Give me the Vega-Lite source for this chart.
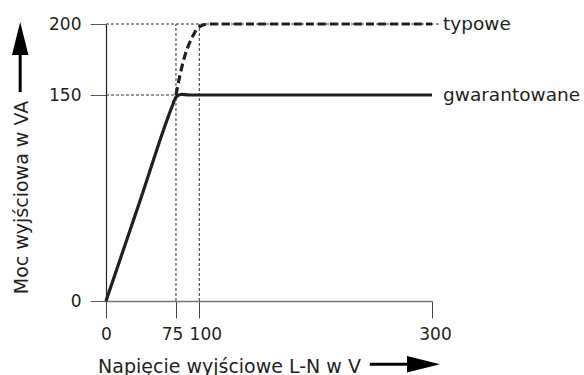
{
  "$schema": "https://vega.github.io/schema/vega-lite/v6.json",
  "autosize": "none",
  "width": 326,
  "height": 277,
  "padding": {"left": 106, "top": 24, "right": 152, "bottom": 74},
  "config": {"font": "DejaVu Sans", "view": {"stroke": null}},
  "datasets": {
    "curves": [
      {"series": "gwarantowane", "x": 0, "y": 0},
      {"series": "gwarantowane", "x": 35, "y": 70},
      {"series": "gwarantowane", "x": 71, "y": 142},
      {"series": "gwarantowane", "x": 74, "y": 147.2},
      {"series": "gwarantowane", "x": 77, "y": 149.6},
      {"series": "gwarantowane", "x": 81, "y": 150.4},
      {"series": "gwarantowane", "x": 90, "y": 150},
      {"series": "gwarantowane", "x": 300, "y": 150},
      {"series": "typowe", "x": 75, "y": 150},
      {"series": "typowe", "x": 79.3, "y": 164},
      {"series": "typowe", "x": 84.7, "y": 178},
      {"series": "typowe", "x": 91.9, "y": 190},
      {"series": "typowe", "x": 100, "y": 198},
      {"series": "typowe", "x": 108, "y": 200},
      {"series": "typowe", "x": 300, "y": 200}
    ],
    "guides": [
      {"x1": 75, "y1": 0, "x2": 75, "y2": 200},
      {"x1": 100, "y1": 0, "x2": 100, "y2": 200},
      {"x1": 0, "y1": 150, "x2": 75, "y2": 150},
      {"x1": 0, "y1": 200, "x2": 308, "y2": 200}
    ],
    "labels": [
      {"label": "typowe", "x": 309.5, "y": 200},
      {"label": "gwarantowane", "x": 309.5, "y": 150}
    ],
    "shafts": [
      {"x1": 246.5, "y1": -46, "x2": 282, "y2": -46},
      {"x1": -92, "y1": 152, "x2": -92, "y2": 182}
    ],
    "heads": [
      {"dir": "right", "x": 292.7, "y": -46},
      {"dir": "up", "x": -92, "y": 189.8}
    ]
  },
  "layer": [
    {
      "data": {"name": "guides"},
      "mark": {"type": "rule", "color": "#333333", "strokeWidth": 1, "strokeDash": [3, 2]},
      "encoding": {
        "x": {
          "field": "x1", "type": "quantitative",
          "scale": {"domain": [0, 100, 300], "range": [0, 93.3, 326], "nice": false, "zero": false},
          "axis": {
            "values": [0, 75, 100, 300],
            "grid": false,
            "tickSize": 17,
            "tickColor": "#444444",
            "domainColor": "#777777",
            "domainWidth": 1.5,
            "labelFont": "DejaVu Sans",
            "labelFontSize": 17,
            "labelColor": "#231f20",
            "labelPadding": 8,
            "labelFlush": false,
            "labelOverlap": false,
            "labelOffset": {"expr": "datum.value == 75 ? -4 : datum.value == 100 ? 6 : datum.value == 300 ? 3 : 0"},
            "title": "Napięcie wyjściowe L-N w V",
            "titleFont": "DejaVu Sans",
            "titleFontSize": 19,
            "titleFontWeight": "normal",
            "titleColor": "#231f20",
            "titleX": 123,
            "titleY": 71,
            "titleAlign": "center",
            "titleBaseline": "alphabetic"
          }
        },
        "x2": {"field": "x2"},
        "y": {
          "field": "y1", "type": "quantitative",
          "scale": {"domain": [0, 150, 200], "range": [277, 71, 0], "nice": false, "zero": false},
          "axis": {
            "values": [0, 150, 200],
            "grid": false,
            "tickSize": 16,
            "tickColor": "#555555",
            "domainColor": "#222222",
            "domainWidth": 1.2,
            "labelFont": "DejaVu Sans",
            "labelFontSize": 17,
            "labelColor": "#231f20",
            "labelPadding": 9,
            "labelFlush": false,
            "labelOverlap": false,
            "title": "Moc wyjściowa w VA",
            "titleFont": "DejaVu Sans",
            "titleFontSize": 19,
            "titleFontWeight": "normal",
            "titleColor": "#231f20",
            "titleAngle": -90,
            "titleX": -79,
            "titleY": 173,
            "titleAlign": "center",
            "titleBaseline": "alphabetic"
          }
        },
        "y2": {"field": "y2"}
      }
    },
    {
      "data": {"name": "curves"},
      "mark": {"type": "line", "color": "#231f20", "strokeWidth": 3.2, "interpolate": "monotone"},
      "encoding": {
        "x": {"field": "x", "type": "quantitative"},
        "y": {"field": "y", "type": "quantitative"},
        "detail": {"field": "series"},
        "strokeDash": {
          "field": "series", "type": "nominal",
          "scale": {"domain": ["gwarantowane", "typowe"], "range": [[1, 0], [8, 4]]},
          "legend": null
        }
      }
    },
    {
      "data": {"name": "labels"},
      "mark": {"type": "text", "align": "left", "baseline": "middle", "fontSize": 18.5, "font": "DejaVu Sans", "color": "#231f20"},
      "encoding": {
        "x": {"field": "x", "type": "quantitative"},
        "y": {"field": "y", "type": "quantitative"},
        "text": {"field": "label"}
      }
    },
    {
      "data": {"name": "shafts"},
      "mark": {"type": "rule", "color": "#000000", "strokeWidth": 3},
      "encoding": {
        "x": {"field": "x1", "type": "quantitative"},
        "x2": {"field": "x2"},
        "y": {"field": "y1", "type": "quantitative"},
        "y2": {"field": "y2"}
      }
    },
    {
      "data": {"name": "heads"},
      "mark": {"type": "point", "filled": true, "color": "#000000", "opacity": 1, "size": 1089, "strokeWidth": 0},
      "encoding": {
        "x": {"field": "x", "type": "quantitative"},
        "y": {"field": "y", "type": "quantitative"},
        "shape": {
          "field": "dir", "type": "nominal",
          "scale": {"domain": ["right", "up"], "range": ["M-1,-0.5L1,0L-1,0.5Z", "M-0.5,1L0,-1L0.5,1Z"]},
          "legend": null
        }
      }
    }
  ]
}
